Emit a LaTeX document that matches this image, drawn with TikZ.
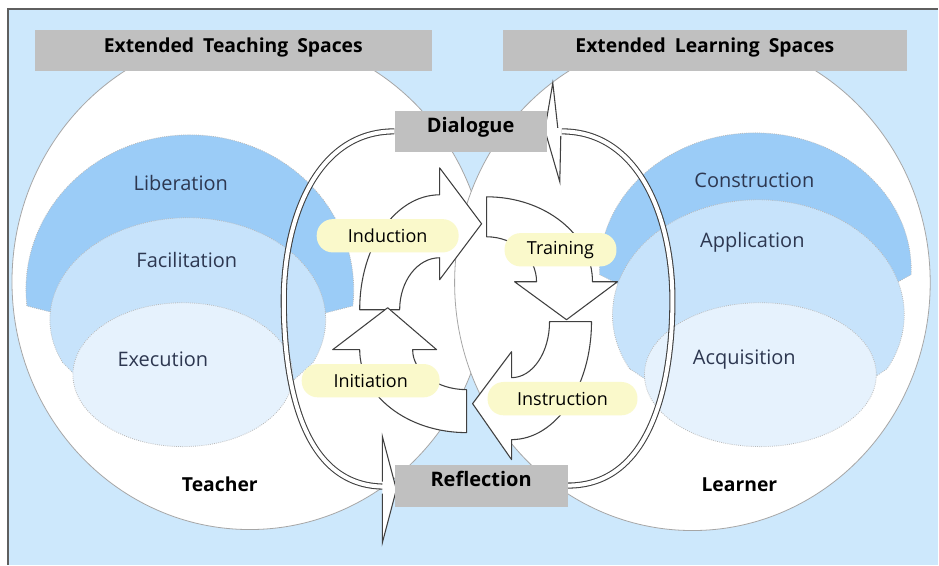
\documentclass[tikz,border=0pt]{standalone}
\usepackage{fontspec}
\setmainfont{Open Sans}
\usetikzlibrary{calc}

\definecolor{bgblue}{RGB}{205,232,252}
\definecolor{hdrgray}{RGB}{192,192,192}
\definecolor{framegray}{RGB}{95,95,95}
\definecolor{libblue}{RGB}{155,204,247}
\definecolor{facblue}{RGB}{199,227,251}
\definecolor{exeblue}{RGB}{230,242,253}
\definecolor{pillyel}{RGB}{250,249,203}
\definecolor{lbltxt}{RGB}{45,55,80}

\pgfdeclarelayer{front}
\pgfsetlayers{main,front}

\begin{document}
\begin{tikzpicture}[x=0.75pt,y=0.75pt,
    hdr/.style={fill=hdrgray,minimum height=30.75pt,inner sep=0pt,text depth=8pt,font=\bfseries\fontsize{14.5}{17}\selectfont},
    box/.style={fill=hdrgray,minimum height=30.75pt,inner sep=0pt,font=\bfseries\fontsize{15}{18}\selectfont},
    pill/.style={fill=pillyel,rounded corners=12pt,inner sep=0pt,minimum height=25pt,font=\fontsize{13.5}{16}\selectfont},
    zone/.style={text=lbltxt,font=\fontsize{15}{18}\selectfont},
    who/.style={font=\bfseries\fontsize{14.5}{17}\selectfont},
    ring/.style={fill=white,draw=gray!70,line width=0.6pt},
    layer/.style={draw=gray!55,densely dotted,line width=0.6pt},
    turn/.style={fill=white,draw=black!75,line width=0.8pt,line join=round},
    bigarc/.style={draw=black!75,double=white,double distance=3pt,line width=0.8pt},
    tip/.style={fill=white,draw=black!75,line width=0.8pt}]

  % canvas and frame
  \fill[white] (0,0) rectangle (939,565);
  \fill[bgblue] (8,0) rectangle (939,556);
  \draw[framegray,line width=1.2pt] (8,0) -- (8,556) -- (939,556);

  % teaching and learning spaces
  \filldraw[ring] (250,283) ellipse[x radius=238,y radius=248];
  \filldraw[ring] (693,282) ellipse[x radius=238,y radius=248];

  % teacher side
  \filldraw[layer,fill=libblue] (26.9,258.8) arc[start angle=186,end angle=-6,x radius=164,y radius=155]
    -- (260,235) -- (120,235) -- cycle;
  \filldraw[layer,fill=facblue] (62.9,201.9) arc[start angle=205,end angle=-25,x radius=138,y radius=102]
    -- (250,145) -- (120,145) -- cycle;
  \filldraw[layer,fill=exeblue] (183,190) ellipse[x radius=110,y radius=72];

  % learner side
  \filldraw[layer,fill=libblue] (600.1,290.2) arc[start angle=182,end angle=-2,x radius=156,y radius=137]
    -- (840,250) -- (680,250) -- cycle;
  \filldraw[layer,fill=facblue] (630.1,196) arc[start angle=208,end angle=-28,x radius=146,y radius=115]
    -- (820,150) -- (700,150) -- cycle;
  \filldraw[layer,fill=exeblue] (761,190) ellipse[x radius=116,y radius=72];

  \node[zone] (z_lib) at (181,382) {Liberation};
  \node[zone] (z_fac) at (187,305) {Facilitation};
  \node[zone] (z_exe) at (163,205) {Execution};
  \node[who] (w_tea) at (220,80) {Teacher};
  \node[zone] (z_con) at (755,385) {Construction};
  \node[zone] (z_app) at (753,322) {Application};
  \node[zone] (z_acq) at (745,205) {Acquisition};
  \node[who] (w_lea) at (740,80) {Learner};

  \begin{pgfonlayer}{front}
    \node[hdr,minimum width=297.75pt] (sp_tea) at (233.5,514.5) {Extended\hspace{3pt} Teaching\hspace{3pt} Spaces};
    \node[hdr,minimum width=303.75pt] (sp_lea) at (705.5,514.5) {Extended\hspace{3pt} Learning\hspace{3pt} Spaces};
    \node[box,minimum width=114pt,text depth=9pt] (dlg) at (471,433.5) {Dialogue};
    \node[box,minimum width=129.75pt,minimum height=31.5pt,text depth=10.5pt] (refl) at (481.5,79) {Reflection};
  \end{pgfonlayer}

  % outer loop
  \draw[bigarc] (dlg.west) to[out=180,in=90] (284,265) to[out=-90,in=180] ($(refl.west)+(-10,-1)$);
  \draw[bigarc] (refl.east) to[out=0,in=-90] (673,265) to[out=90,in=0] ($(dlg.east)+(15,0)$);
  \filldraw[tip,shift={(refl.west)}] (-12,4) -- (-12,49) -- (2,-4) -- (-12,-57) -- (-12,-8);
  \filldraw[tip,shift={(dlg.east)}] (11,3.5) -- (6,48.5) -- (-2,1.5) -- (13,-50.5) -- (14,-4.5);

  % inner cycle
  \filldraw[turn] (400,255) -- (360,255) arc[start angle=180,end angle=90,x radius=80,y radius=115]
    -- (440,397) -- (482,341) -- (440,285) -- (440,307) arc[start angle=90,end angle=180,x radius=40,y radius=52] -- cycle;
  \filldraw[turn] (487,328) -- (487,368) arc[start angle=90,end angle=0,x radius=106,y radius=85]
    -- (618,283) -- (567,245) -- (515,283) -- (537,283) arc[start angle=0,end angle=90,x radius=50,y radius=45] -- cycle;
  \filldraw[turn] (550,243) -- (592,243) arc[start angle=0,end angle=-90,x radius=80,y radius=118]
    -- (512,105) -- (473,161) -- (512,213) -- (512,187) arc[start angle=-90,end angle=0,x radius=38,y radius=56] -- cycle;
  \filldraw[turn] (467,175) -- (467,132) arc[start angle=270,end angle=180,x radius=107,y radius=83]
    -- (333,215) -- (388,257) -- (437,215) -- (413,215) arc[start angle=180,end angle=270,x radius=54,y radius=40] -- cycle;

  \node[pill,minimum width=106.5pt] (p_ind) at (388,329) {Induction};
  \node[pill,minimum width=84pt] (p_tra) at (561,315) {Training};
  \node[pill,minimum width=103.5pt] (p_ini) at (371,184) {Initiation};
  \node[pill,minimum width=112.5pt] (p_ins) at (563,166) {Instruction};
\end{tikzpicture}
\end{document}
